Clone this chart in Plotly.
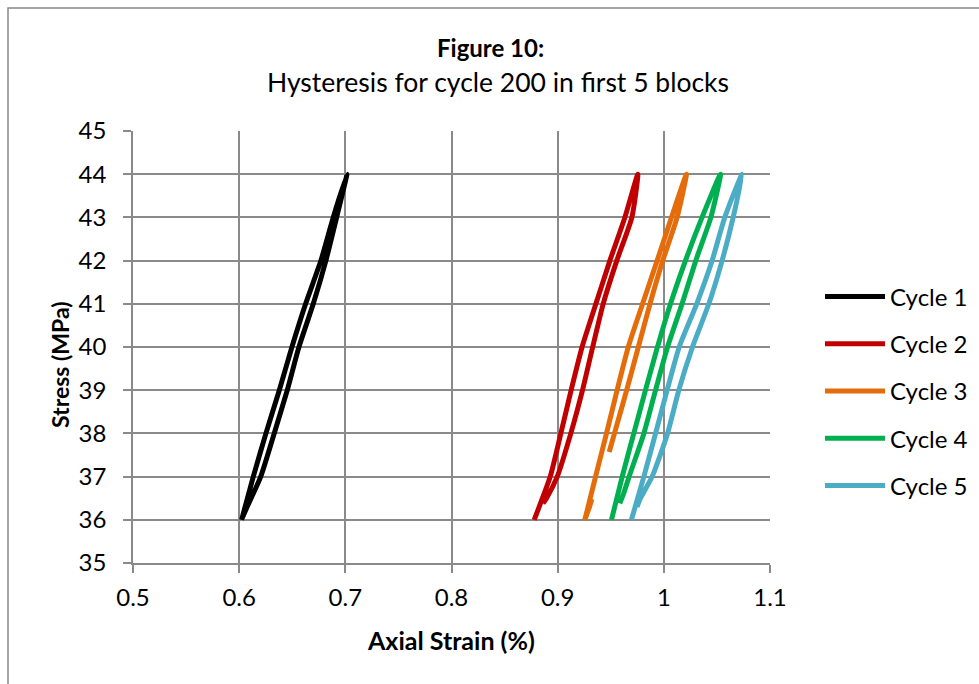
import plotly.graph_objects as go

# ---- data (strain %, stress MPa) ----
names = ["Cycle 1", "Cycle 2", "Cycle 3", "Cycle 4", "Cycle 5"]
colors = ["#000000", "#C00000", "#E46C0A", "#00B050", "#4BACC6"]

strain_c1 = [0.6023, 0.6133, 0.6252, 0.6378, 0.6497, 0.6626, 0.6770, 0.6886, 0.7015,
             0.6918, 0.6817, 0.6698, 0.6563, 0.6453, 0.6330, 0.6203, 0.6075, 0.6030]
stress_c1 = [36.0, 37.0, 38.0, 39.0, 40.0, 41.0, 42.0, 43.0, 44.0,
             43.0, 42.0, 41.0, 40.0, 39.0, 38.0, 37.0, 36.3, 36.05]

strain_c2 = [0.8779, 0.8930, 0.9030, 0.9127, 0.9230, 0.9360, 0.9492, 0.9633, 0.9755,
             0.9699, 0.9557, 0.9429, 0.9330, 0.9234, 0.9124, 0.8996, 0.8895, 0.8862]
stress_c2 = [36.0, 37.0, 38.0, 39.0, 40.0, 41.0, 42.0, 43.0, 44.0,
             43.0, 42.0, 41.0, 40.0, 39.0, 38.0, 37.0, 36.5, 36.38]

strain_c3 = [0.9256, 0.9357, 0.9460, 0.9560, 0.9665, 0.9800, 0.9937, 1.0072, 1.0213,
             1.0125, 0.9990, 0.9870, 0.9760, 0.9650, 0.9535, 0.9485]
stress_c3 = [36.0, 37.0, 38.0, 39.0, 40.0, 41.0, 42.0, 43.0, 44.0,
             43.0, 42.0, 41.0, 40.0, 39.0, 38.0, 37.57]
hook_strain_c3 = [0.9322, 0.9300, 0.9285]
hook_stress_c3 = [36.48, 36.30, 36.20]

strain_c4 = [0.9507, 0.9608, 0.9717, 0.9827, 0.9940, 1.0063, 1.0204, 1.0360, 1.0534,
             1.0443, 1.0301, 1.0172, 1.0035, 0.9922, 0.9812, 0.9673, 0.9620, 0.9585]
stress_c4 = [36.0, 37.0, 38.0, 39.0, 40.0, 41.0, 42.0, 43.0, 44.0,
             43.0, 42.0, 41.0, 40.0, 39.0, 38.0, 37.0, 36.6, 36.38]

strain_c5 = [0.9695, 0.9812, 0.9922, 1.0031, 1.0145, 1.0310, 1.0455, 1.0574, 1.0737,
             1.0653, 1.0549, 1.0424, 1.0270, 1.0141, 1.0035, 0.9890, 0.9780, 0.9748]
stress_c5 = [36.0, 37.0, 38.0, 39.0, 40.0, 41.0, 42.0, 43.0, 44.0,
             43.0, 42.0, 41.0, 40.0, 39.0, 38.0, 37.0, 36.5, 36.3]

x_ticks = [0.5, 0.6, 0.7, 0.8, 0.9, 1.0, 1.1]
x_tick_text = ["0.5", "0.6", "0.7", "0.8", "0.9", "1", "1.1"]
y_ticks = [35, 36, 37, 38, 39, 40, 41, 42, 43, 44, 45]

series = [(strain_c1, stress_c1), (strain_c2, stress_c2), (strain_c3, stress_c3),
          (strain_c4, stress_c4), (strain_c5, stress_c5)]

FONT = "Lato, Carlito, Calibri, sans-serif"
GRID = "#8a8a8a"

fig = go.Figure()
for i, (sx, sy) in enumerate(series):
    fig.add_trace(go.Scatter(
        x=sx, y=sy, mode="lines", name=names[i], legendgroup=names[i],
        line=dict(color=colors[i], width=5, shape="spline", smoothing=0.6),
    ))
# small end hook on cycle 3 (same series)
fig.add_trace(go.Scatter(
    x=hook_strain_c3 + [strain_c3[0]], y=hook_stress_c3 + [stress_c3[0]],
    mode="lines", showlegend=False, legendgroup=names[2],
    line=dict(color=colors[2], width=5, shape="spline", smoothing=0.6),
))

W, H = 979, 684
L, R, T, B = 133, 770, 131, 563

def px(xp):
    return (xp - L) / (R - L)

def py(yp):
    return (B - yp) / (B - T)

fig.update_layout(
    width=W, height=H,
    margin=dict(l=L, r=W - R, t=T, b=H - B, pad=0, autoexpand=False),
    paper_bgcolor="white", plot_bgcolor="white",
    font=dict(family=FONT, size=24, color="#000000"),
    showlegend=True,
    legend=dict(
        x=px(820), xanchor="left",
        y=py(391), yanchor="middle",
        font=dict(family=FONT, size=24, color="#000000"),
        tracegroupgap=13, itemwidth=60,
        bgcolor="rgba(0,0,0,0)",
    ),
    xaxis=dict(
        range=[0.5, 1.1], tickvals=x_ticks, ticktext=x_tick_text,
        showgrid=True, gridcolor=GRID, gridwidth=1.5,
        showline=True, linecolor=GRID, linewidth=1.5,
        ticks="outside", ticklen=8, tickcolor=GRID, tickwidth=1.5,
        zeroline=False, tickfont=dict(family=FONT, size=24),
        ticklabelstandoff=4, automargin=False,
    ),
    yaxis=dict(
        range=[35, 45], tickvals=y_ticks,
        showgrid=True, gridcolor=GRID, gridwidth=1.5,
        showline=True, linecolor=GRID, linewidth=1.5,
        ticks="outside", ticklen=8, tickcolor=GRID, tickwidth=1.5,
        zeroline=False, tickfont=dict(family=FONT, size=24),
        ticklabelstandoff=12, automargin=False,
    ),
    annotations=[
        dict(text="<b>Figure 10:</b>", xref="paper", yref="paper",
             x=px(490), y=py(47), xanchor="center", yanchor="middle",
             showarrow=False, font=dict(family=FONT, size=24)),
        dict(text="Hysteresis for cycle 200 in first 5 blocks", xref="paper", yref="paper",
             x=px(498), y=py(82), xanchor="center", yanchor="middle",
             showarrow=False, font=dict(family=FONT, size=26.5)),
        dict(text="<b>Axial Strain (%)</b>", xref="paper", yref="paper",
             x=px(451), y=py(640), xanchor="center", yanchor="middle",
             showarrow=False, font=dict(family=FONT, size=25)),
        dict(text="<b>Stress (MPa)</b>", xref="paper", yref="paper",
             x=px(60), y=py(365), xanchor="center", yanchor="middle", textangle=-90,
             showarrow=False, font=dict(family=FONT, size=23)),
    ],
    shapes=[
        dict(type="rect", xref="paper", yref="paper",
             x0=px(8), x1=px(990), y0=py(700), y1=py(8),
             line=dict(color="#888888", width=1.5), fillcolor="rgba(0,0,0,0)", layer="below"),
    ],
)

fig.write_html("out.html")
